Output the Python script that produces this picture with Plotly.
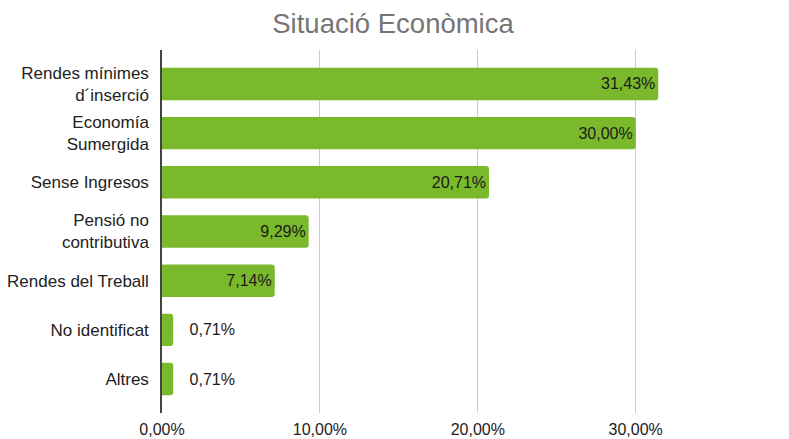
import plotly.graph_objects as go

categories = ["Rendes mínimes<br>d´inserció", "Economía<br>Sumergida", "Sense Ingresos",
              "Pensió no<br>contributiva", "Rendes del Treball", "No identificat", "Altres"]
values = [31.43, 30.00, 20.71, 9.29, 7.14, 0.71, 0.71]
x_ticks = [0, 10, 20, 30]
x_tick_labels = ["0,00%", "10,00%", "20,00%", "30,00%"]
title = "Situació Econòmica"

positions = ["inside"] * 5 + ["outside"] * 2
templates = ["%{x:.2f}%"] * 5 + ["   %{x:.2f}%"] * 2

fig = go.Figure(go.Bar(
    x=values, y=list(range(len(categories))), orientation="h",
    marker=dict(color="#7ab92b", cornerradius=3, line=dict(width=0)),
    texttemplate=templates, textposition=positions,
    insidetextanchor="end",
    textfont=dict(size=16, color="#1a1a1a", family="Liberation Sans"),
    cliponaxis=False,
    width=0.66,
))

fig.update_layout(
    width=781, height=431,
    separators=",.",
    paper_bgcolor="white", plot_bgcolor="white",
    font=dict(family="Liberation Sans", color="#222222", size=16),
    title=dict(text=title, x=0.493, xanchor="center", y=0.965, yanchor="middle",
               font=dict(size=27.5, color="#757575", family="Liberation Sans")),
    margin=dict(l=154, r=27, t=42, b=26, autoexpand=False),
    showlegend=False,
)
fig.update_xaxes(range=[0, 38], tickvals=x_ticks, ticktext=x_tick_labels,
                 showgrid=True, gridcolor="#cccccc", gridwidth=1,
                 zeroline=False, showline=False, automargin=False,
                 ticks="outside", ticklen=2, tickcolor="rgba(0,0,0,0)",
                 tickfont=dict(size=16, color="#222222"))
fig.update_yaxes(range=[6.69, -0.69], tickvals=list(range(len(categories))),
                 ticktext=categories, showgrid=False, zeroline=False,
                 showline=True, linecolor="#444444", linewidth=1.5,
                 automargin=False,
                 ticks="outside", ticklen=8, tickcolor="rgba(0,0,0,0)",
                 tickfont=dict(size=17, color="#222222"))

fig.write_html("out.html")
